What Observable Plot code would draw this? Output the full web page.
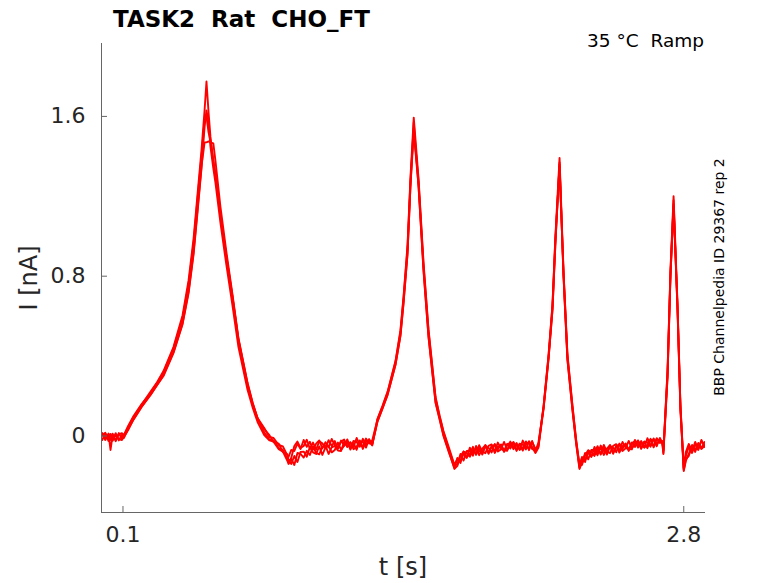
<!DOCTYPE html>
<html><head><meta charset="utf-8">
<script src="https://cdn.jsdelivr.net/npm/d3@7"></script>
<script src="https://cdn.jsdelivr.net/npm/@observablehq/plot@0.6"></script>
<style>
body{margin:0;background:#fff;}
#wrap{position:relative;width:778px;height:583px;}
#wrap svg{position:absolute;left:0;top:0;}
</style></head><body>
<div id="wrap"></div>
<script>
// sample times [s]
const time = [
  0, 0.015, 0.03, 0.04, 0.05, 0.065, 0.08, 0.095, 0.104,
  0.125, 0.151, 0.19, 0.233, 0.265, 0.295, 0.343, 0.387, 0.416, 0.44, 0.459, 0.478, 0.493, 0.502,
  0.512, 0.521, 0.535, 0.545, 0.569, 0.598, 0.627, 0.656, 0.7, 0.725, 0.748, 0.78, 0.805, 0.825, 0.85, 0.87, 0.892, 0.897,
  0.91, 0.925, 0.94, 0.955, 0.97, 0.985, 1.0, 1.015, 1.03, 1.045, 1.06, 1.075, 1.09, 1.105, 1.12, 1.135, 1.15, 1.165, 1.18, 1.195, 1.21, 1.225, 1.24, 1.255, 1.27, 1.285, 1.3,
  1.325, 1.35, 1.374, 1.412, 1.436, 1.451, 1.47, 1.484, 1.5,
  1.523, 1.547, 1.571, 1.605, 1.625, 1.643, 1.67, 1.696,
  1.71, 1.725, 1.74, 1.755, 1.77, 1.785, 1.8, 1.815, 1.83, 1.845, 1.86, 1.875, 1.89, 1.905, 1.92, 1.935, 1.95, 1.965, 1.98, 1.995, 2.01, 2.025, 2.04, 2.055, 2.07, 2.086, 2.1,
  2.125, 2.149, 2.168, 2.182, 2.202,
  2.221, 2.24, 2.264, 2.282, 2.298,
  2.31, 2.325, 2.34, 2.355, 2.37, 2.385, 2.4, 2.415, 2.43, 2.445, 2.46, 2.475, 2.49, 2.505, 2.52, 2.535, 2.55, 2.565, 2.58, 2.595, 2.61, 2.625, 2.64, 2.655, 2.67, 2.685, 2.697, 2.702,
  2.712, 2.722, 2.736, 2.751,
  2.77, 2.784, 2.8,
  2.81, 2.824, 2.84, 2.855, 2.87, 2.885, 2.9
];
// current [nA], repetitions 1..4
const rep1 = [
  0.01, -0.02, 0.012, -0.07, 0.005, -0.022, 0.015, -0.015, 0.0,
  0.045, 0.095, 0.158, 0.222, 0.27, 0.325, 0.445, 0.605, 0.78, 0.99, 1.21, 1.43, 1.632, 1.775,
  1.62, 1.50, 1.38, 1.31, 1.11, 0.90, 0.70, 0.485, 0.26, 0.16, 0.09, 0.04, -0.005, -0.01, -0.045, -0.052, -0.098, -0.105,
  -0.07, -0.075, -0.038, -0.065, -0.02, -0.054, -0.029, -0.068, -0.038, -0.022, -0.062, -0.031, -0.056, -0.015, -0.045, -0.059, -0.023, -0.048, -0.017, -0.061, -0.025, -0.03, -0.054, -0.014, -0.043, -0.018, -0.047,
  0.085, 0.152, 0.222, 0.375, 0.53, 0.70, 0.955, 1.29, 1.594,
  1.29, 0.87, 0.535, 0.195, 0.1, 0.025, -0.06, -0.145,
  -0.115, -0.135, -0.078, -0.085, -0.104, -0.069, -0.09, -0.046, -0.078, -0.086, -0.049, -0.042, -0.085, -0.053, -0.047, -0.07, -0.074, -0.028, -0.056, -0.035, -0.069, -0.058, -0.027, -0.071, -0.03, -0.065, -0.054,
  0.15, 0.405, 0.66, 1.0, 1.392,
  0.83, 0.41, 0.155, -0.02, -0.145,
  -0.145, -0.095, -0.072, -0.1, -0.085, -0.051, -0.093, -0.06, -0.093, -0.051, -0.059, -0.081, -0.038, -0.065, -0.037, -0.075, -0.037, -0.025, -0.058, -0.035, -0.058, -0.011, -0.044, -0.047, -0.011, -0.035, -0.025, -0.075,
  0.13, 0.33, 0.83, 1.20,
  0.66, 0.155, -0.16,
  -0.08, -0.04, -0.075, -0.03, -0.065, -0.025, -0.045
];
const rep2 = [
  -0.02, 0.012, -0.025, 0.008, -0.018, 0.014, -0.022, 0.006, -0.01,
  0.035, 0.082, 0.145, 0.205, 0.255, 0.30, 0.415, 0.56, 0.715, 0.91, 1.12, 1.34, 1.55, 1.63,
  1.57, 1.45, 1.34, 1.27, 1.07, 0.855, 0.655, 0.445, 0.23, 0.14, 0.07, 0.005, -0.022, -0.028, -0.066, -0.078, -0.125, -0.14,
  -0.115, -0.145, -0.085, -0.09, -0.108, -0.074, -0.095, -0.052, -0.085, -0.092, -0.055, -0.047, -0.09, -0.057, -0.05, -0.073, -0.075, -0.028, -0.055, -0.033, -0.066, -0.054, -0.022, -0.065, -0.023, -0.031, -0.045,
  0.07, 0.14, 0.205, 0.355, 0.50, 0.665, 0.91, 1.245, 1.57,
  1.25, 0.825, 0.495, 0.165, 0.08, 0.0, -0.085, -0.16,
  -0.11, -0.125, -0.088, -0.11, -0.059, -0.089, -0.06, -0.096, -0.063, -0.046, -0.084, -0.052, -0.075, -0.033, -0.062, -0.075, -0.039, -0.063, -0.031, -0.075, -0.039, -0.043, -0.067, -0.026, -0.055, -0.085, -0.059,
  0.135, 0.385, 0.63, 0.96, 1.37,
  0.80, 0.38, 0.13, -0.04, -0.165,
  -0.135, -0.085, -0.117, -0.07, -0.07, -0.096, -0.048, -0.075, -0.083, -0.046, -0.089, -0.051, -0.043, -0.075, -0.062, -0.025, -0.062, -0.04, -0.023, -0.06, -0.028, -0.061, -0.019, -0.022, -0.051, -0.01, -0.035, -0.09,
  0.1, 0.295, 0.795, 1.18,
  0.63, 0.13, -0.175,
  -0.125, -0.09, -0.045, -0.08, -0.035, -0.065, -0.05
];
const rep3 = [
  0.004, 0.016, -0.015, -0.02, 0.012, -0.026, 0.008, 0.014, 0.004,
  0.05, 0.1, 0.16, 0.215, 0.268, 0.318, 0.438, 0.59, 0.76, 0.965, 1.19, 1.40, 1.58, 1.60,
  1.52, 1.48, 1.375, 1.315, 1.115, 0.895, 0.695, 0.478, 0.252, 0.158, 0.085, 0.035, 0.004, -0.03, -0.038, -0.08, -0.092, -0.13,
  -0.11, -0.05, -0.028, -0.06, -0.05, -0.019, -0.064, -0.033, -0.068, -0.027, -0.037, -0.061, -0.021, -0.05, -0.025, -0.064, -0.028, -0.018, -0.052, -0.031, -0.055, -0.01, -0.044, -0.049, -0.013, -0.038, -0.022,
  0.082, 0.148, 0.218, 0.37, 0.52, 0.69, 0.94, 1.275, 1.54,
  1.275, 0.855, 0.525, 0.188, 0.095, 0.02, -0.07, -0.15,
  -0.14, -0.09, -0.123, -0.075, -0.074, -0.099, -0.05, -0.076, -0.083, -0.046, -0.089, -0.052, -0.045, -0.078, -0.067, -0.03, -0.069, -0.048, -0.031, -0.07, -0.039, -0.073, -0.032, -0.036, -0.065, -0.07, -0.049,
  0.148, 0.4, 0.652, 0.99, 1.35,
  0.82, 0.4, 0.15, -0.025, -0.15,
  -0.105, -0.12, -0.082, -0.105, -0.055, -0.086, -0.058, -0.095, -0.063, -0.046, -0.084, -0.051, -0.073, -0.03, -0.057, -0.07, -0.032, -0.055, -0.023, -0.065, -0.028, -0.031, -0.054, -0.012, -0.041, -0.015, -0.04, -0.085,
  0.125, 0.32, 0.82, 1.16,
  0.65, 0.15, -0.165,
  -0.1, -0.055, -0.085, -0.04, -0.07, -0.02, -0.055
];
const rep4 = [
  0.015, -0.01, 0.004, 0.01, -0.024, 0.006, -0.016, -0.02, -0.005,
  0.03, 0.085, 0.148, 0.208, 0.258, 0.305, 0.42, 0.565, 0.725, 0.92, 1.135, 1.35, 1.47, 1.47,
  1.475, 1.47, 1.465, 1.38, 1.15, 0.92, 0.71, 0.49, 0.265, 0.165, 0.09, 0.018, -0.018, -0.022, -0.06, -0.07, -0.116, -0.125,
  -0.14, -0.1, -0.13, -0.08, -0.078, -0.104, -0.055, -0.082, -0.09, -0.052, -0.095, -0.057, -0.05, -0.082, -0.07, -0.033, -0.07, -0.048, -0.03, -0.068, -0.036, -0.069, -0.027, -0.03, -0.058, -0.016, -0.04,
  0.072, 0.138, 0.208, 0.358, 0.505, 0.67, 0.915, 1.25, 1.52,
  1.255, 0.835, 0.5, 0.17, 0.085, 0.005, -0.08, -0.165,
  -0.15, -0.1, -0.078, -0.105, -0.089, -0.054, -0.095, -0.061, -0.093, -0.051, -0.059, -0.082, -0.04, -0.068, -0.042, -0.08, -0.044, -0.033, -0.066, -0.045, -0.069, -0.023, -0.057, -0.061, -0.025, -0.075, -0.034,
  0.138, 0.388, 0.635, 0.97, 1.36,
  0.805, 0.385, 0.135, -0.035, -0.16,
  -0.11, -0.13, -0.072, -0.08, -0.1, -0.066, -0.088, -0.045, -0.078, -0.086, -0.049, -0.041, -0.083, -0.05, -0.042, -0.065, -0.067, -0.02, -0.048, -0.025, -0.058, -0.046, -0.014, -0.057, -0.016, -0.025, -0.028, -0.07,
  0.11, 0.30, 0.80, 1.15,
  0.635, 0.135, -0.17,
  -0.115, -0.1, -0.05, -0.07, -0.04, -0.06, -0.03
];
const xTicks = [0.1, 2.8];
const xTickLabels = ["0.1", "2.8"];
const yTicks = [0, 0.8, 1.6];
const yTickLabels = ["0", "0.8", "1.6"];
const xDomain = [-0.0034, 2.9047];
const yDomain = [-0.383, 1.965];

const reps = [rep1, rep2, rep3, rep4];
const rows = reps.flatMap((r, k) => {
  const n = Math.min(r.length, time.length);
  return time.slice(0, n).map((t, i) => ({t, I: r[i], rep: k}));
});

const W = 778, H = 583, mL = 101, mR = 73, mT = 43, mB = 71;
const pxPerX = (W - mL - mR) / (xDomain[1] - xDomain[0]);
const pxPerY = (H - mT - mB) / (yDomain[1] - yDomain[0]);
const tick = 6;
const axisColor = "#666";

const plot = Plot.plot({
  width: W, height: H,
  marginLeft: mL, marginRight: mR, marginTop: mT, marginBottom: mB,
  style: {fontFamily: "DejaVu Sans", background: "transparent"},
  x: {domain: xDomain, axis: null},
  y: {domain: yDomain, axis: null},
  marks: [
    Plot.line(rows, {x: "t", y: "I", z: "rep", stroke: "#ff0000", strokeWidth: 1.9, clip: true}),
    Plot.ruleX([xDomain[0]], {stroke: axisColor}),
    Plot.ruleY([yDomain[0]], {stroke: axisColor}),
    Plot.ruleX(xTicks, {y1: yDomain[0], y2: yDomain[0] + tick / pxPerY, stroke: axisColor}),
    Plot.ruleY(yTicks, {x1: xDomain[0], x2: xDomain[0] + tick / pxPerX, stroke: axisColor}),
    Plot.axisX(xTicks, {tickSize: 0, tickPadding: 14, fontSize: 22, color: "#262626", label: null,
      tickFormat: d => xTickLabels[xTicks.indexOf(d)]}),
    Plot.axisY(yTicks, {tickSize: 0, tickPadding: 16, fontSize: 22, color: "#262626", label: null,
      tickFormat: d => yTickLabels[yTicks.indexOf(d)]})
  ]
});
document.getElementById("wrap").appendChild(plot);

const ov = d3.select("#wrap").append("svg")
  .attr("width", W).attr("height", H)
  .style("pointer-events", "none")
  .attr("font-family", "DejaVu Sans");
ov.append("text").attr("x", 113).attr("y", 27).attr("font-size", 23).attr("font-weight", "bold")
  .attr("fill", "#000").style("white-space", "pre")
  .text("TASK2  Rat  CHO_FT");
ov.append("text").attr("x", 704).attr("y", 47).attr("font-size", 18.5).attr("text-anchor", "end")
  .attr("fill", "#000").style("white-space", "pre")
  .text("35 °C  Ramp");
ov.append("text").attr("transform", "translate(724,277) rotate(-90)").attr("font-size", 14)
  .attr("text-anchor", "middle").attr("fill", "#000")
  .text("BBP Channelpedia ID 29367 rep 2");
ov.append("text").attr("transform", "translate(37,278) rotate(-90)").attr("font-size", 24)
  .attr("text-anchor", "middle").attr("fill", "#262626")
  .text("I [nA]");
ov.append("text").attr("x", 403).attr("y", 575).attr("font-size", 24)
  .attr("text-anchor", "middle").attr("fill", "#262626")
  .text("t [s]");
</script>
</body></html>
